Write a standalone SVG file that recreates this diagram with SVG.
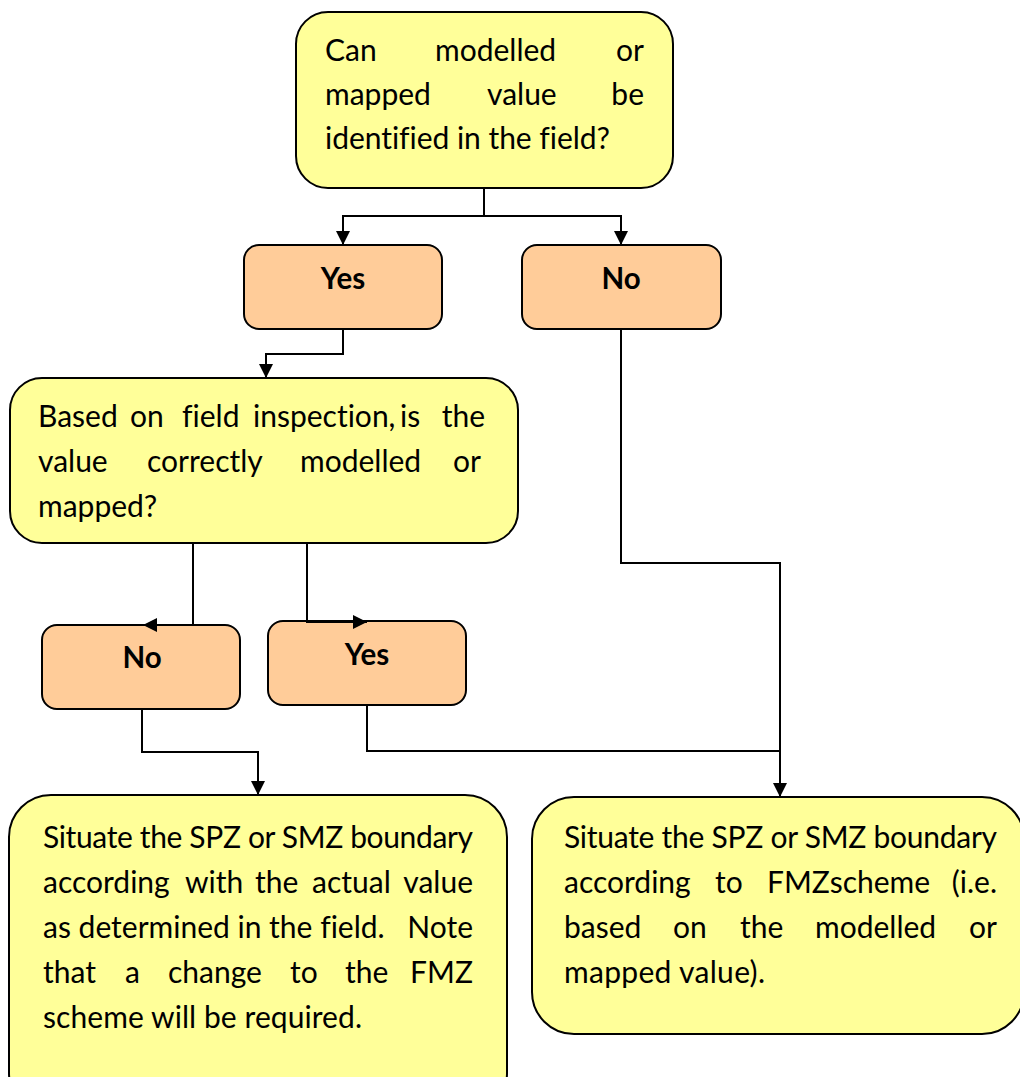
<svg xmlns="http://www.w3.org/2000/svg" width="1020" height="1077" viewBox="0 0 1020 1077">
<defs>
<style>
.q{fill:#FFFF99;stroke:#000;stroke-width:2}
.a{fill:#FFCC99;stroke:#000;stroke-width:2}
.t{font-family:Lato,"Liberation Sans",sans-serif;font-size:30px;fill:#000;font-variant-ligatures:none}
.b{font-family:Lato,"Liberation Sans",sans-serif;font-size:29.5px;font-weight:bold;fill:#000;text-anchor:middle}
.c{fill:none;stroke:#000;stroke-width:2}
</style>
<marker id="ah" markerUnits="userSpaceOnUse" viewBox="0 0 14 14" markerWidth="14" markerHeight="14" refX="14" refY="7" orient="auto">
<path d="M0,0 L14,7 L0,14 z" fill="#000"/>
</marker>
</defs>
<rect width="1020" height="1077" fill="#fff"/>

<g id="q1">
<rect class="q" x="296" y="12" width="377" height="176" rx="32"/>
<text class="t" y="61"><tspan x="325">Can</tspan><tspan x="435">modelled</tspan><tspan x="644" text-anchor="end">or</tspan></text>
<text class="t" y="105"><tspan x="325">mapped</tspan><tspan x="487">value</tspan><tspan x="644" text-anchor="end">be</tspan></text>
<text class="t" x="325" y="149" textLength="285" lengthAdjust="spacing">identified in the field?</text>
</g>

<g id="yes1">
<rect class="a" x="244" y="245" width="198" height="84" rx="15"/>
<text class="b" x="343" y="289">Yes</text>
</g>

<g id="no1">
<rect class="a" x="522" y="245" width="199" height="84" rx="15"/>
<text class="b" x="621" y="289">No</text>
</g>

<g id="q2">
<rect class="q" x="10" y="378" width="508" height="165" rx="32"/>
<text class="t" y="427"><tspan x="38">Based</tspan><tspan x="130">on</tspan><tspan x="182">field</tspan><tspan x="253">inspection,</tspan><tspan x="400">is</tspan><tspan x="485" text-anchor="end">the</tspan></text>
<text class="t" y="472"><tspan x="38">value</tspan><tspan x="147">correctly</tspan><tspan x="300">modelled</tspan><tspan x="481" text-anchor="end">or</tspan></text>
<text class="t" x="38" y="517">mapped?</text>
</g>

<g id="no2">
<rect class="a" x="42" y="625" width="198" height="84" rx="15"/>
<text class="b" x="142" y="668">No</text>
</g>

<g id="yes2">
<rect class="a" x="268" y="621" width="198" height="84" rx="15"/>
<text class="b" x="367" y="665">Yes</text>
</g>

<g id="r1">
<rect class="q" x="9" y="795" width="498" height="320" rx="42"/>
<text class="t" x="43" y="848" textLength="430" lengthAdjust="spacing">Situate the SPZ or SMZ boundary</text>
<text class="t" y="893"><tspan x="43">according</tspan><tspan x="185">with</tspan><tspan x="255">the</tspan><tspan x="312">actual</tspan><tspan x="473" text-anchor="end">value</tspan></text>
<text class="t" y="938"><tspan x="43">as determined in the field.</tspan><tspan x="473" text-anchor="end">Note</tspan></text>
<text class="t" y="983"><tspan x="43">that</tspan><tspan x="125">a</tspan><tspan x="168">change</tspan><tspan x="290">to</tspan><tspan x="345">the</tspan><tspan x="473" text-anchor="end">FMZ</tspan></text>
<text class="t" x="43" y="1028" textLength="319" lengthAdjust="spacing">scheme will be required.</text>
</g>

<g id="r2">
<rect class="q" x="532" y="797" width="492" height="237" rx="42"/>
<text class="t" x="564" y="848" textLength="433" lengthAdjust="spacing">Situate the SPZ or SMZ boundary</text>
<text class="t" y="893"><tspan x="564">according</tspan><tspan x="715">to</tspan><tspan x="767">FMZscheme</tspan><tspan x="997" text-anchor="end">(i.e.</tspan></text>
<text class="t" y="938"><tspan x="564">based</tspan><tspan x="673">on</tspan><tspan x="740">the</tspan><tspan x="815">modelled</tspan><tspan x="997" text-anchor="end">or</tspan></text>
<text class="t" x="564" y="983" textLength="201" lengthAdjust="spacing">mapped value).</text>
</g>

<g id="connectors">
<path class="c" d="M484,188 V216 H343 V245" marker-end="url(#ah)"/>
<path class="c" d="M484,216 H621 V245" marker-end="url(#ah)"/>
<path class="c" d="M343,329 V354 H266 V378" marker-end="url(#ah)"/>
<path class="c" d="M621,329 V563 H780 V797" marker-end="url(#ah)"/>
<path class="c" d="M193,543 V625 H143" marker-end="url(#ah)"/>
<path class="c" d="M307,543 V622 H367" marker-end="url(#ah)"/>
<path class="c" d="M142,709 V752 H258 V795" marker-end="url(#ah)"/>
<path class="c" d="M367,705 V751 H780"/>
</g>
</svg>
